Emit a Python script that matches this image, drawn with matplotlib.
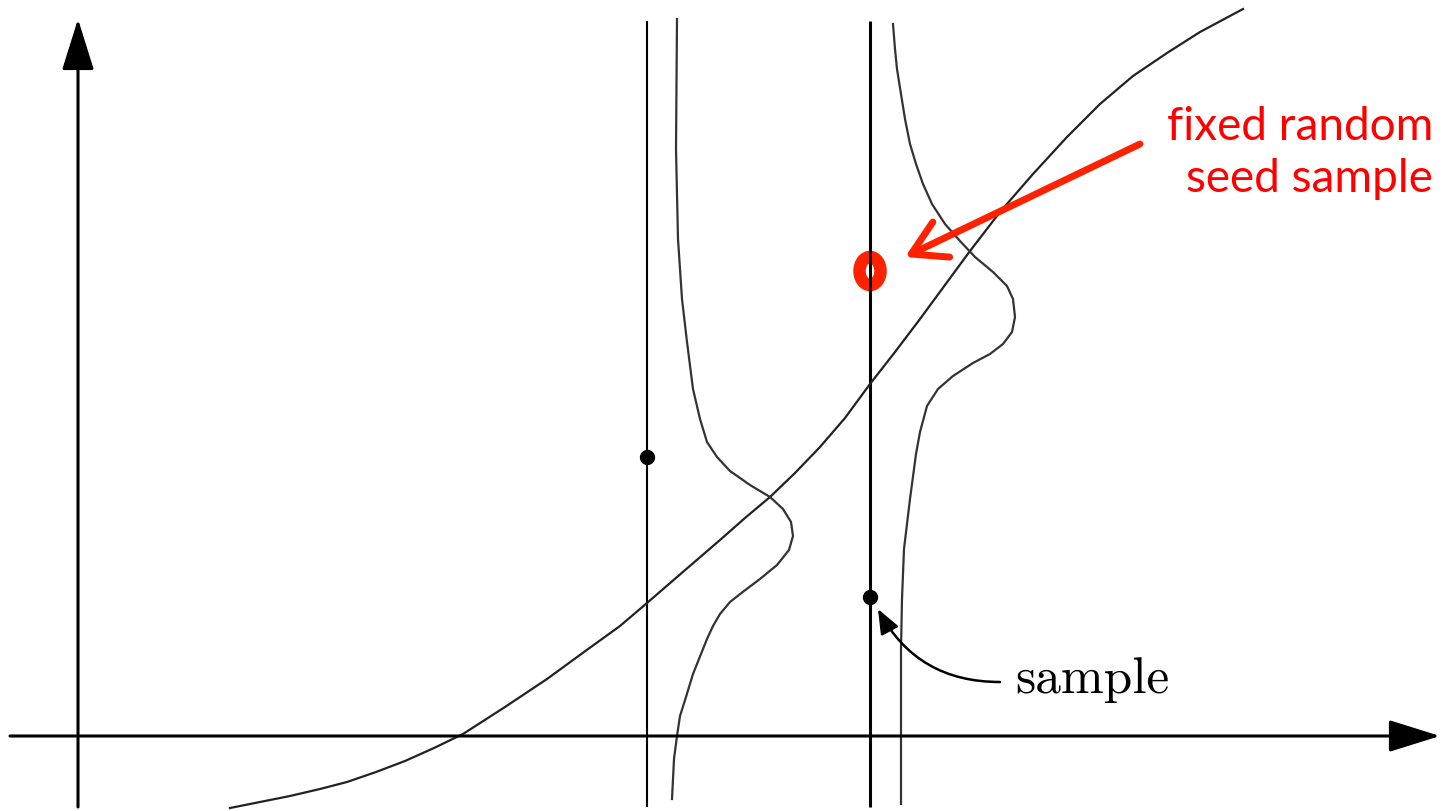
import matplotlib.pyplot as plt
from matplotlib.patches import Ellipse

# diagram units: one unit per output pixel, origin where the two axes cross

# the rising mean curve
curve_x = [152, 182, 212, 242, 269, 298, 327, 356, 385, 427, 469, 506, 542, 569, 606, 642,
           667, 692, 717, 742, 767, 792, 817, 842, 867, 892, 922, 955, 989, 1022, 1055,
           1089, 1122, 1165]
curve_y = [-72, -66, -60, -53, -46, -36, -25, -12, 2, 29, 57, 84, 110, 133, 165, 196,
           218, 239, 263, 289, 318, 352, 384, 417, 451, 485, 524, 562, 599, 632, 660,
           683, 704, 727]

# sideways density around the first slice
left_pdf_x = [599, 598, 600, 604, 609, 615, 622, 629, 639, 652, 672, 692, 705, 713, 715,
              711, 699, 682, 666, 652, 642, 635, 629, 623, 615, 608, 602, 599, 596, 594]
left_pdf_y = [717, 587, 497, 437, 394, 347, 317, 294, 279, 265, 251, 239, 227, 214, 200,
              186, 171, 157, 145, 134, 122, 110, 97, 82, 62, 39, 20, 0, -23, -63]

# sideways density around the second slice
right_pdf_x = [815, 817, 819, 823, 827, 832, 838, 845, 854, 867, 882, 897, 915, 929, 935, 937,
               934, 925, 912, 895, 875, 860, 849, 842, 838, 832, 826, 824, 823, 823, 823]
right_pdf_y = [712, 687, 667, 642, 617, 592, 572, 552, 532, 512, 495, 479, 464, 450, 437, 419,
               404, 392, 382, 373, 360, 347, 330, 304, 282, 237, 187, 137, 87, 0, -68]

# vertical slices and the samples drawn on them
slice_x = [569, 792]
slice_width = [1.5, 2.2]
sample_x = [569, 792]
sample_y = [279, 139]
seed_x, seed_y = 792, 465

fig = plt.figure(figsize=(14.48, 8.12), dpi=100)
ax = fig.add_axes([0, 0, 1, 1])
ax.set_xlim(-78, 1370)
ax.set_ylim(-75, 737)
ax.axis('off')

# axes with arrow heads
axis_arrow = dict(arrowstyle='-|>,head_length=0.8,head_width=0.25', lw=2.2,
                  color='black', mutation_scale=40, shrinkA=0, shrinkB=0)
ax.annotate('', xy=(1362, 0), xytext=(-68, 0), arrowprops=axis_arrow)
ax.annotate('', xy=(0, 717), xytext=(0, -71), arrowprops=axis_arrow)

for x, w in zip(slice_x, slice_width):
    ax.plot([x, x], [-71, 715], color='black', lw=w, solid_capstyle='butt')

ax.plot(curve_x, curve_y, color='#222222', lw=1.6)
ax.plot(left_pdf_x, left_pdf_y, color='#333333', lw=1.6)
ax.plot(right_pdf_x, right_pdf_y, color='#333333', lw=1.6)

ax.plot(sample_x, sample_y, 'o', color='black', markersize=10)

# highlighted seed sample
ax.add_patch(Ellipse((seed_x, seed_y), 21, 28, fill=False,
                     edgecolor='#FF2200', lw=9))
ax.annotate('', xy=(827, 479), xytext=(1062, 592),
            arrowprops=dict(arrowstyle='->,head_length=0.6,head_width=0.35', lw=5,
                            color='#FF2200', mutation_scale=40, shrinkA=0, shrinkB=0))
ax.text(1355, 584, 'fixed random\nseed sample', color='#FF0000', fontsize=33,
        family='Lato', ha='right', va='center', multialignment='right', linespacing=1.3)

# label for the ordinary sample
ax.annotate('', xy=(800, 127), xytext=(922, 54),
            arrowprops=dict(arrowstyle='-|>,head_length=0.5,head_width=0.2', lw=1.8,
                            color='black', mutation_scale=30, shrinkA=0, shrinkB=0,
                            connectionstyle='arc3,rad=-0.3'))
ax.text(937, 57, 'sample', fontsize=37, family='cmr10', ha='left', va='center')

plt.savefig('out.png', dpi=100)
plt.close()
